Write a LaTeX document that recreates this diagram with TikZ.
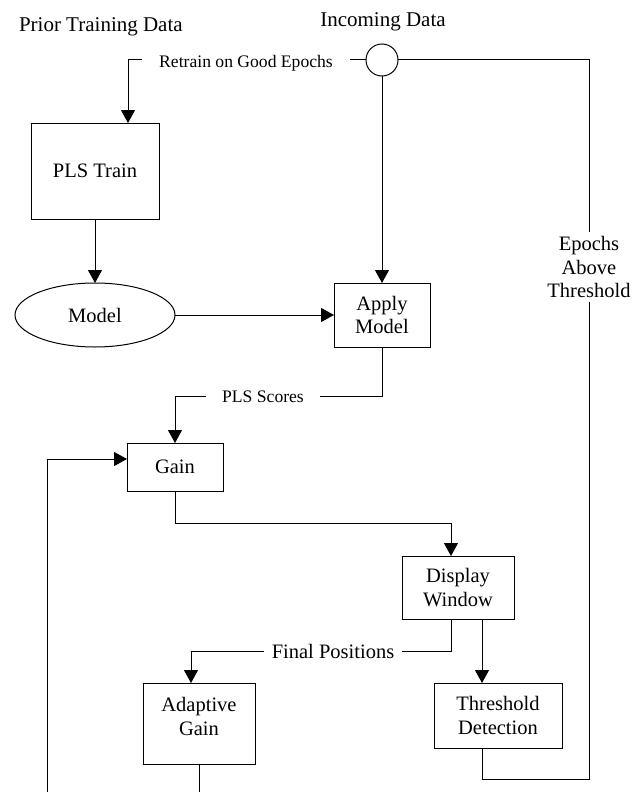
\documentclass[tikz,border=0pt]{standalone}
\usepackage{fontspec}
\setmainfont{Liberation Serif}
\usetikzlibrary{arrows.meta,shapes.geometric}
\begin{document}
\begin{tikzpicture}[x=1pt,y=-1pt,
  every node/.style={inner sep=0pt, outer sep=0pt},
  mainfont/.style={font=\fontsize{20.5}{23.5}\selectfont},
  box/.style={draw, line width=1pt, align=center, mainfont},
  lbl/.style={font=\fontsize{17.6}{21}\selectfont},
  ttl/.style={font=\fontsize{21}{24}\selectfont},
  conn/.style={line width=1pt, line join=miter},
  arr/.style={conn, -{Triangle[length=13pt,width=14pt]}},
]
\useasboundingbox (0,0) rectangle (642,792);
\clip (0,0) rectangle (642,792);

% titles
\node[ttl, anchor=base west] (ptd) at (19,32) {Prior Training Data};
\node[ttl, anchor=base] (inc) at (383,27) {Incoming Data};

% nodes
\node[draw, circle, line width=1pt, minimum size=32pt] (c) at (382,60) {};
\node[lbl, anchor=base, inner xsep=17pt] (retr) at (246,67) {Retrain on Good Epochs};
\node[box, minimum width=128pt, minimum height=96pt] (pls) at (95,171) {PLS Train};
\node[box, ellipse, minimum width=160pt, minimum height=64pt] (model) at (95,315) {Model};
\node[box, minimum width=96pt, minimum height=64pt] (apply) at (382,315) {Apply\\Model};
\node[lbl, anchor=base, inner xsep=16pt] (pss) at (263,402) {PLS Scores};
\node[box, minimum width=96pt, minimum height=48pt] (gain) at (175,467) {Gain};
\node[box, minimum width=112pt, minimum height=63pt] (dw) at (458,587.5) {Display\\Window};
\node[mainfont, anchor=base, inner xsep=8pt] (fp) at (333,658.5) {Final Positions};
\node[box, minimum width=112pt, minimum height=81pt] (ag) at (199,723.5) {Adaptive\\Gain\\[-9.5pt]\mbox{}};
\node[box, minimum width=128pt, minimum height=65pt] (td) at (498,715.5) {Threshold\\Detection};
\node[mainfont, align=center, inner ysep=4pt] (eat) at (589,267) {Epochs\\Above\\Threshold};
\coordinate (fbb) at (47,812);

% connectors
\draw[conn] (c.west) -- (c.west -| retr.east);
\draw[arr] (retr.west |- c.west) -| ([xshift=33pt]pls.north);
\draw[arr] (c.south) -- (apply.north);
\draw[arr] (pls.south) -- (model.north);
\draw[arr] (model.east) -- (apply.west);
\draw[conn] (apply.south) |- (pss.east);
\draw[arr] (pss.west) -| (gain.north);
\draw[arr] (gain.south) -- ++(0,32) -| ([xshift=-7pt]dw.north);
\draw[conn] ([xshift=-7pt]dw.south) |- (fp.east);
\draw[arr] (fp.west) -| ([xshift=-8pt]ag.north);
\draw[arr] ([xshift=24pt]dw.south) -- ([xshift=-16pt]td.north);
\draw[conn] ([xshift=-16pt]td.south) -- ++(0,31) -| (eat.south);
\draw[conn] (eat.north) |- (c.east);
\draw[arr] (ag.south) |- (fbb) |- ([yshift=8pt]gain.west);
\end{tikzpicture}
\end{document}
